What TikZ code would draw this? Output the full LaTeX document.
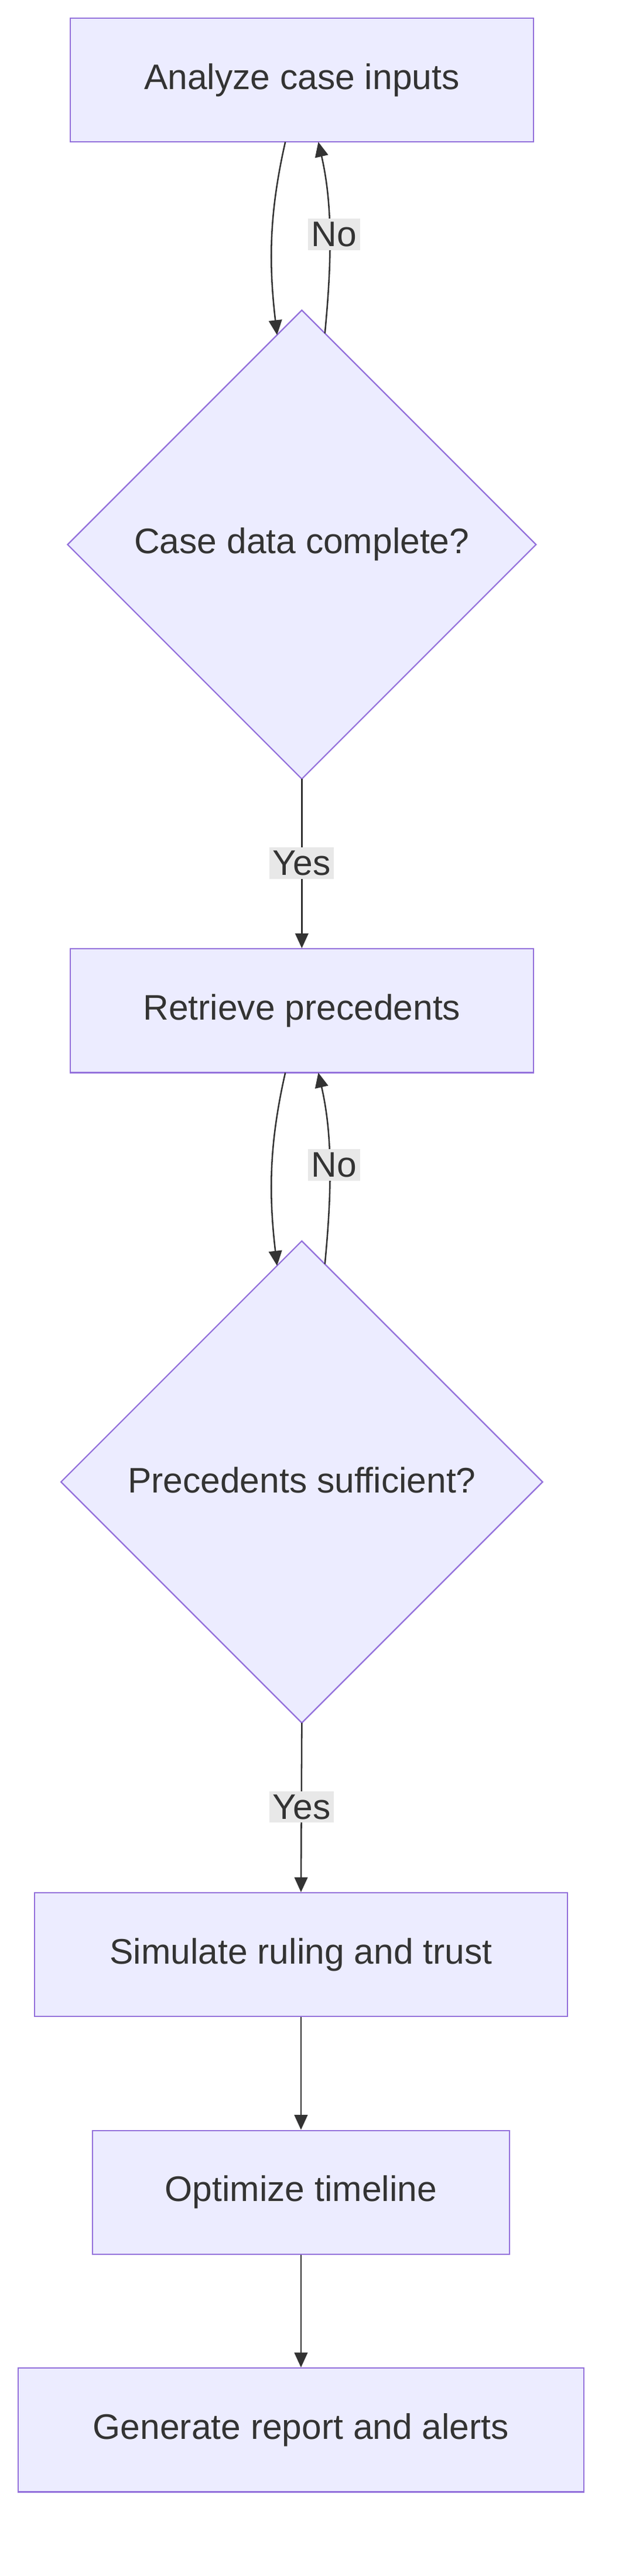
\documentclass[tikz,border=0pt]{standalone}
\usepackage{fontspec}
\setmainfont{Liberation Sans}
\usetikzlibrary{arrows.meta}
\definecolor{nfill}{HTML}{ECECFF}
\definecolor{nline}{HTML}{9370DB}
\definecolor{txt}{HTML}{333333}
\definecolor{lbg}{HTML}{E8E8E8}
\begin{document}
\begin{tikzpicture}[x=1pt,y=-1pt,font=\fontsize{21.5}{25}\selectfont,
  box/.style={draw=nline,fill=nfill,text=txt,minimum height=75,inner sep=0,line width=0.8},
  dia/.style={draw=nline,fill=nfill,line width=0.8},
  arr/.style={draw=txt,line width=0.9,-{Triangle[length=9,width=8]}},
  lab/.style={fill=lbg,text=txt,inner sep=2}]
\useasboundingbox (0,0) rectangle (375,1561);
\node[box,minimum width=281] (b1) at (183,48.5) {Analyze case inputs};
\draw[dia] (183,188) -- (325,330) -- (183,472) -- (41,330) -- cycle;
\node[text=txt] (d1) at (183,330) {Case data complete?};
\coordinate (d1t) at (183,188); \coordinate (d1b) at (183,472);
\coordinate (d1l) at (168,203); \coordinate (d1r) at (197,202);
\node[box,minimum width=281] (b2) at (183,612.5) {Retrieve precedents};
\draw[dia] (183,752) -- (329,898) -- (183,1044) -- (37,898) -- cycle;
\node[text=txt] (d2) at (183,897) {Precedents sufficient?};
\coordinate (d2b) at (183,1044);
\coordinate (d2l) at (168,767); \coordinate (d2r) at (197,766);
\node[box,minimum width=323] (b3) at (182.5,1184.5) {Simulate ruling and trust};
\node[box,minimum width=253] (b4) at (182.5,1328.5) {Optimize timeline};
\node[box,minimum width=343] (b5) at (182.5,1472.5) {Generate report and alerts};
% loops
\draw[arr] (173,86) .. controls (163,130) and (163,160) .. (d1l);
\draw[arr] (d1r) .. controls (201,160) and (202,125) .. (193,86);
\node[lab] at (202.5,142) {No};
\draw[arr] (173,650) .. controls (163,694) and (163,724) .. (d2l);
\draw[arr] (d2r) .. controls (201,724) and (202,689) .. (193,650);
\node[lab] at (202.5,706) {No};
\draw[arr] (d1b) -- (b2.north);
\node[lab] at (183,523) {Yes};
\draw[arr] (d2b) -- (b3.north);
\node[lab] at (183,1095) {Yes};
\draw[arr] (b3) -- (b4);
\draw[arr] (b4) -- (b5);
\end{tikzpicture}
\end{document}
